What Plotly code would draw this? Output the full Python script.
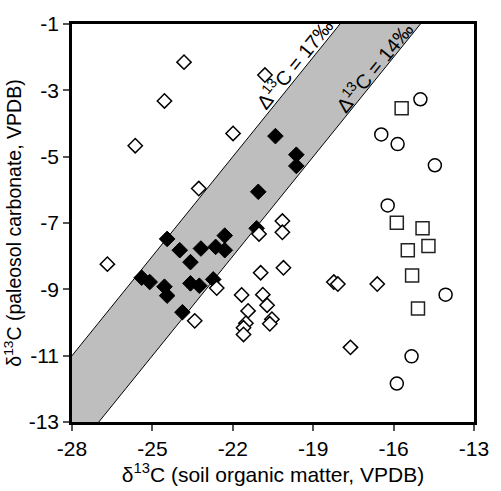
import plotly.graph_objects as go

# Band definition: delta13C offsets (carbonate - organic)
band_offsets = [17, 14]
band_labels = ["Δ<sup>13</sup>C = 17‰", "Δ<sup>13</sup>C = 14‰"]

# Filled diamonds
fd_x = [-20.41, -19.63, -19.63, -21.05, -21.11, -24.45, -23.98, -23.58, -23.19, -22.64,
        -22.30, -22.30, -25.40, -25.10, -24.55, -24.45, -23.58, -23.25, -22.73, -23.88]
fd_y = [-4.38, -4.94, -5.28, -6.06, -7.16, -7.48, -7.82, -8.18, -7.77, -7.72,
        -7.38, -7.82, -8.65, -8.78, -8.92, -9.19, -8.82, -8.89, -8.70, -9.69]

# Open diamonds
od_x = [-23.82, -24.55, -25.64, -21.99, -20.80, -23.27, -26.68, -21.02, -20.15, -20.15,
        -20.96, -20.11, -21.67, -20.88, -20.72, -21.43, -21.51, -21.60, -21.60, -20.54,
        -20.62, -22.60, -23.42, -18.23, -18.08, -16.61, -17.61]
od_y = [-2.15, -3.32, -4.67, -4.30, -2.54, -5.96, -8.24, -7.33, -6.94, -7.28,
        -8.50, -8.35, -9.17, -9.16, -9.48, -9.65, -10.02, -10.16, -10.36, -9.90,
        -10.04, -8.96, -9.95, -8.78, -8.84, -8.84, -10.75]

# Open squares
sq_x = [-15.70, -15.88, -14.92, -15.47, -14.70, -15.31, -15.09]
sq_y = [-3.54, -6.99, -7.16, -7.82, -7.69, -8.58, -9.58]

# Open circles
ci_x = [-15.00, -16.46, -15.85, -14.46, -16.22, -14.06, -15.33, -15.88]
ci_y = [-3.27, -4.33, -4.62, -5.26, -6.47, -9.16, -11.02, -11.84]

x_ticks = [-28, -25, -22, -19, -16, -13]
y_ticks = [-13, -11, -9, -7, -5, -3, -1]

FONT = "Liberation Sans, Arial, Helvetica, sans-serif"

fig = go.Figure()

# Gray band polygon (extends beyond axes, clipped by plot area)
hi, lo = band_offsets
xa, xb = -32, -10
poly_x = [xa, xb, xb, xa, xa]
poly_y = [xa + hi, xb + hi, xb + lo, xa + lo, xa + hi]
fig.add_trace(go.Scatter(x=poly_x, y=poly_y, mode="lines", fill="toself",
                         fillcolor="rgb(190,190,190)", line=dict(width=0),
                         hoverinfo="skip", showlegend=False))
for off in band_offsets:
    fig.add_trace(go.Scatter(x=[xa, xb], y=[xa + off, xb + off], mode="lines",
                             line=dict(color="black", width=1),
                             hoverinfo="skip", showlegend=False))

fig.add_trace(go.Scatter(x=fd_x, y=fd_y, mode="markers", showlegend=False,
                         marker=dict(symbol="diamond", size=12, color="black",
                                     line=dict(color="black", width=1))))
fig.add_trace(go.Scatter(x=od_x, y=od_y, mode="markers", showlegend=False,
                         marker=dict(symbol="diamond", size=11, color="white",
                                     line=dict(color="black", width=1.5))))
fig.add_trace(go.Scatter(x=sq_x, y=sq_y, mode="markers", showlegend=False,
                         marker=dict(symbol="square-open", size=13, color="#222",
                                     line=dict(color="#222", width=1.5))))
fig.add_trace(go.Scatter(x=ci_x, y=ci_y, mode="markers", showlegend=False,
                         marker=dict(symbol="circle-open", size=13, color="black",
                                     line=dict(color="black", width=1.5))))

# Band labels (placed along each line, shifted to its upper-left side)
label_pos = [(-19.35, -2.45), (-16.35, -2.55)]
for (lx, ly), txt in zip(label_pos, band_labels):
    fig.add_annotation(x=lx, y=ly, text=txt, showarrow=False, textangle=-51,
                       xshift=-11, yshift=9,
                       font=dict(family=FONT, size=20, color="black"))

axis_common = dict(showgrid=False, zeroline=False, showline=True, mirror=True,
                   linecolor="black", linewidth=2.5, ticks="outside", ticklen=6,
                   tickwidth=1.5, tickcolor="#555",
                   tickfont=dict(family=FONT, size=21, color="black"))

fig.update_xaxes(range=[-28, -13], tickvals=x_ticks, ticktext=[str(v) for v in x_ticks],
                 title=dict(text="δ<sup>13</sup>C (soil organic matter, VPDB)",
                            font=dict(family=FONT, size=21, color="black"), standoff=4),
                 **axis_common)
fig.update_yaxes(range=[-13, -1], tickvals=y_ticks, ticktext=[str(v) for v in y_ticks],
                 title=dict(text="δ<sup>13</sup>C (paleosol carbonate, VPDB)",
                            font=dict(family=FONT, size=19.5, color="black"), standoff=2),
                 **axis_common)

fig.update_layout(width=501, height=491, margin=dict(l=72, r=18, t=17, b=64),
                  plot_bgcolor="white", paper_bgcolor="white")

fig.write_html("out.html")
